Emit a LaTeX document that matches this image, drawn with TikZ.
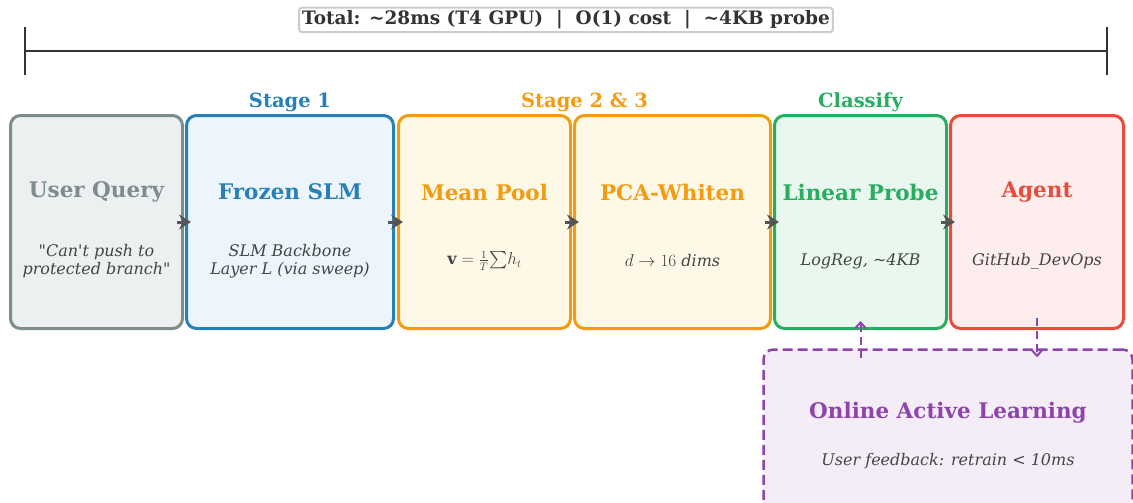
\documentclass[tikz,border=0pt]{standalone}
\usepackage{fontspec}
\setmainfont{DejaVu Serif}[Ligatures=TeXOff]
\usepackage{amsmath}
\usepackage{tikz}
\usetikzlibrary{positioning}
\usetikzlibrary{calc,arrows.meta}

\definecolor{queryLine}{HTML}{7F8C8D}
\definecolor{queryFill}{HTML}{ECF0F1}
\definecolor{slmLine}{HTML}{2980B9}
\definecolor{slmFill}{HTML}{EBF5FB}
\definecolor{poolLine}{HTML}{F39C12}
\definecolor{poolFill}{HTML}{FEF9E7}
\definecolor{probeLine}{HTML}{27AE60}
\definecolor{probeFill}{HTML}{E9F7EF}
\definecolor{agentLine}{HTML}{E74C3C}
\definecolor{agentFill}{HTML}{FDEDEC}
\definecolor{learnLine}{HTML}{8E44AD}
\definecolor{learnFill}{HTML}{F4ECF7}
\definecolor{darkText}{HTML}{333333}
\definecolor{subText}{HTML}{444444}
\definecolor{arrowGrey}{HTML}{555555}

\newcommand{\titlefont}{\fontsize{21.5}{25}\selectfont\bfseries}
\newcommand{\subfont}{\fontsize{16}{18}\selectfont\itshape}

\tikzset{
    stagebox/.style 2 args = {draw=#1, fill=#2, line width=3pt, rounded corners=10pt, minimum height=213pt, inner sep=0pt},
    boxtitle/.style = {font=\titlefont, text=#1},
    boxsub/.style = {font=\subfont, text=subText, align=center},
    stagelabel/.style = {font=\fontsize{19.5}{22}\selectfont\bfseries, text=#1},
    flow/.style = {draw=arrowGrey, line width=3pt, -{Stealth[length=12pt,width=15pt,inset=4pt,line width=1.5pt]}},
    feedback/.style = {draw=learnLine, line width=2pt, dash pattern=on 8pt off 5pt, -{Straight Barb[length=6pt,width=11pt]}},
    span/.style = {draw=darkText, line width=2pt, {Bar[width=48pt]}-{Bar[width=48pt]}},
}

\begin{document}
\begin{tikzpicture}[x=1pt, y=-1pt]
    \useasboundingbox (0,0) rectangle (1133,503);
    \clip (0,0) rectangle (1133,503);

    %Pipeline boxes
    \node[stagebox={queryLine}{queryFill}, minimum width=172pt] (query) at (96.5,222) {};
    \node[stagebox={slmLine}{slmFill}, minimum width=207pt, right = 1pt of query] (slm) {};
    \node[stagebox={poolLine}{poolFill}, minimum width=172pt, right = 2pt of slm] (pool) {};
    \node[stagebox={poolLine}{poolFill}, minimum width=196pt, right = 1pt of pool] (pca) {};
    \node[stagebox={probeLine}{probeFill}, minimum width=172pt, right = 1pt of pca] (probe) {};
    \node[stagebox={agentLine}{agentFill}, minimum width=173pt, right = 1pt of probe] (agent) {};

    %Feedback box
    \node[draw=learnLine, fill=learnFill, line width=2.5pt, dash pattern=on 10pt off 5pt, rounded corners=10pt, minimum width=369pt, minimum height=175pt] (learn) at (948,437) {};

    %-------------------------------------------
    %Titles
    \node[boxtitle=queryLine] (queryTitle) at ([yshift=30pt]query.center) {User Query};
    \node[boxtitle=slmLine] (slmTitle) at ([yshift=30pt]slm.center) {Frozen SLM};
    \node[boxtitle=poolLine] (poolTitle) at ([yshift=30pt]pool.center) {Mean Pool};
    \node[boxtitle=poolLine] (pcaTitle) at ([yshift=30pt]pca.center) {PCA-Whiten};
    \node[boxtitle=probeLine] (probeTitle) at ([yshift=30pt]probe.center) {Linear Probe};
    \node[boxtitle=agentLine] (agentTitle) at ([yshift=30pt]agent.center) {Agent};
    \node[boxtitle=learnLine] (learnTitle) at ([yshift=24pt]learn.center) {Online Active Learning};

    %Subtitles
    \node[boxsub] (querySub) at ([yshift=-39pt]query.center) {"Can't push to\\protected branch"};
    \node[boxsub] (slmSub) at ([yshift=-39pt]slm.center) {SLM Backbone\\Layer L (via sweep)};
    \node[boxsub] (poolSub) at ([yshift=-39pt]pool.center) {$\mathbf{v}=\frac{1}{T}{\textstyle\sum} h_t$};
    \node[boxsub] (pcaSub) at ([yshift=-39pt]pca.center) {$d\rightarrow16$ dims};
    \node[boxsub] (probeSub) at ([yshift=-39pt]probe.center) {LogReg, \textasciitilde4KB};
    \node[boxsub] (agentSub) at ([yshift=-39pt]agent.center) {GitHub\_DevOps};
    \node[boxsub] (learnSub) at ([yshift=-24pt]learn.center) {User feedback: retrain < 10ms};

    %Stage labels
    \node[stagelabel=slmLine] (stageOne) at ([yshift=12pt]slm.north) {Stage 1};
    \node[stagelabel=poolLine] (stageTwo) at ([yshift=12pt]$(pool.north west)!0.5!(pca.north east)$) {Stage 2 \& 3};
    \node[stagelabel=probeLine] (stageThree) at ([yshift=12pt]probe.north) {Classify};

    %-------------------------------------------
    %Arrows
    \draw[flow] ([xshift=-7pt]query.east) -- ([xshift=6pt]slm.west);
    \draw[flow] ([xshift=-7pt]slm.east) -- ([xshift=6pt]pool.west);
    \draw[flow] ([xshift=-7pt]pool.east) -- ([xshift=6pt]pca.west);
    \draw[flow] ([xshift=-7pt]pca.east) -- ([xshift=6pt]probe.west);
    \draw[flow] ([xshift=-7pt]probe.east) -- ([xshift=6pt]agent.west);

    \draw[feedback] ($(learn.north -| probe.south)+(0pt,-10pt)$) -- ([yshift=9pt]probe.south);
    \draw[feedback] ([yshift=12pt]agent.south) -- ($(learn.north -| agent.south)+(0pt,-9pt)$);

    %-------------------------------------------
    %Latency span
    \coordinate (spanStart) at (24,51);
    \coordinate (spanEnd) at (1108,51);
    \draw[span] (spanStart) -- (spanEnd);

    \node[draw=black!20, fill=white, line width=2pt, rounded corners=3pt, inner xsep=3pt, inner ysep=3pt, font=\fontsize{18.5}{21}\selectfont\bfseries, text=darkText] (total) at (566,20) {Total: \textasciitilde28ms (T4 GPU)\ \ |\ \ O(1) cost\ \ |\ \ \textasciitilde4KB probe};

\end{tikzpicture}
\end{document}
